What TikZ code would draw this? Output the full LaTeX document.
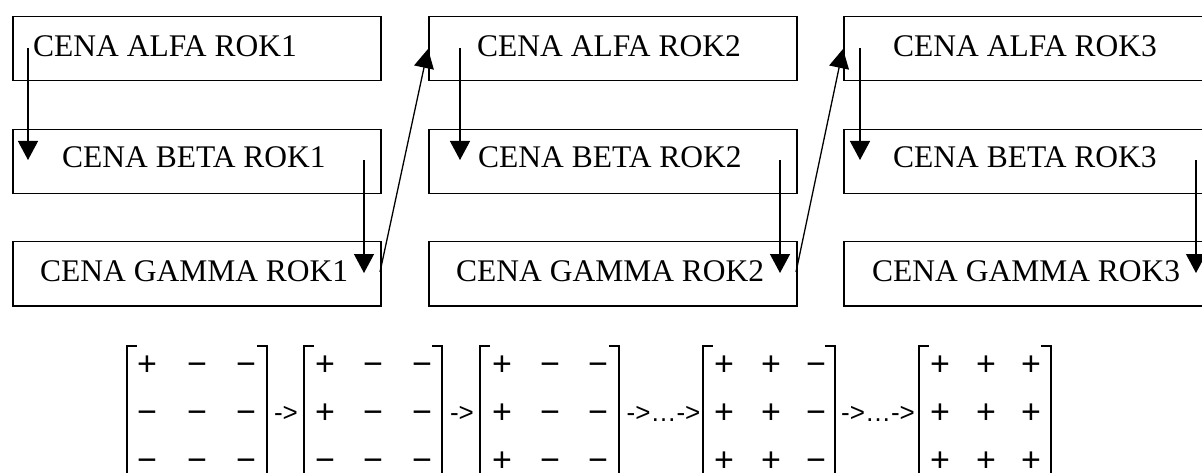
\documentclass[tikz,border=0pt]{standalone}
\usepackage{fontspec}
\setmainfont{Liberation Serif}
\newfontfamily\matfont{Liberation Sans}
\usetikzlibrary{arrows.meta}
\begin{document}
\begin{tikzpicture}[x=1pt,y=-1pt,
 box/.style={draw,line width=1.5pt,minimum width=368pt,minimum height=64pt,inner sep=0pt,anchor=north west},
 lbl/.style={anchor=base west,inner sep=0pt,font=\fontsize{31.5}{36}\selectfont},
 conn/.style={line width=1.3pt,-{Triangle[width=20pt,length=19pt]}},
 ent/.style={anchor=base,inner sep=0pt,text depth=0pt,font=\matfont\fontsize{34}{40}\selectfont},
 op/.style={anchor=base,inner sep=0pt,font=\matfont\fontsize{26}{30}\selectfont},
 brk/.style={line width=1.3pt}]
\path[use as bounding box,clip] (0,0) rectangle (1202,473);
% boxes
\foreach \c/\x in {1/12,2/428,3/843}{
  \node[box] (a\c) at (\x,16) {};
  \node[box] (b\c) at (\x,129) {};
  \node[box] (g\c) at (\x,241) {};
}
% labels
\node[lbl] (ta1) at (33,57) {CENA ALFA ROK1};
\node[lbl] (tb1) at (62,168) {CENA BETA ROK1};
\node[lbl] (tg1) at (40,281) {CENA GAMMA ROK1};
\node[lbl] (ta2) at (477,57) {CENA ALFA ROK2};
\node[lbl] (tb2) at (478,168) {CENA BETA ROK2};
\node[lbl] (tg2) at (456,281) {CENA GAMMA ROK2};
\node[lbl] (ta3) at (893,57) {CENA ALFA ROK3};
\node[lbl] (tb3) at (893,168) {CENA BETA ROK3};
\node[lbl] (tg3) at (872,281) {CENA GAMMA ROK3};
% connectors
\coordinate (ab1s) at (28,48);   \coordinate (ab1e) at (28,160);
\coordinate (ab2s) at (460,48);  \coordinate (ab2e) at (460,160);
\coordinate (ab3s) at (860,48);  \coordinate (ab3e) at (860,160);
\coordinate (bg1s) at (364,160); \coordinate (bg1e) at (364,273);
\coordinate (bg2s) at (780,160); \coordinate (bg2e) at (780,273);
\coordinate (bg3s) at (1196,160);\coordinate (bg3e) at (1196,273);
\coordinate (d1s) at (380,272);  \coordinate (d1e) at (428,49);
\coordinate (d2s) at (796,272);  \coordinate (d2e) at (843,49);
\foreach \p in {ab1,ab2,ab3,bg1,bg2,bg3}{\draw[conn] (\p s) -- (\p e);}
\draw[conn] (d1s) -- (d1e);
\draw[conn] (d2s) -- (d2e);
% matrices
\foreach \l/\r in {127/267,304/442,480/619,703/835,919/1051}{
  \draw[brk] (\l+10,346) -- (\l,346) -- (\l,490);
  \draw[brk] (\r-10,346) -- (\r,346) -- (\r,490);
}
% matrix 1
\node[ent] (m1a) at (147,375) {+};  \node[ent] (m1b) at (197,375) {−}; \node[ent] (m1c) at (246,375) {−};
\node[ent] (m1d) at (147,423.5) {−};\node[ent] (m1e) at (197,423.5) {−};\node[ent] (m1f) at (246,423.5) {−};
\node[ent] (m1g) at (147,471) {−};  \node[ent] (m1h) at (197,471) {−}; \node[ent] (m1i) at (246,471) {−};
% matrix 2
\node[ent] (m2a) at (325,375) {+};  \node[ent] (m2b) at (373,375) {−}; \node[ent] (m2c) at (422,375) {−};
\node[ent] (m2d) at (325,423.5) {+};\node[ent] (m2e) at (373,423.5) {−};\node[ent] (m2f) at (422,423.5) {−};
\node[ent] (m2g) at (325,471) {−};  \node[ent] (m2h) at (373,471) {−}; \node[ent] (m2i) at (422,471) {−};
% matrix 3
\node[ent] (m3a) at (502,375) {+};  \node[ent] (m3b) at (550,375) {−}; \node[ent] (m3c) at (598,375) {−};
\node[ent] (m3d) at (502,423.5) {+};\node[ent] (m3e) at (550,423.5) {−};\node[ent] (m3f) at (598,423.5) {−};
\node[ent] (m3g) at (502,471) {+};  \node[ent] (m3h) at (550,471) {−}; \node[ent] (m3i) at (598,471) {−};
% matrix 4
\node[ent] (m4a) at (724,375) {+};  \node[ent] (m4b) at (771,375) {+}; \node[ent] (m4c) at (816,375) {−};
\node[ent] (m4d) at (724,423.5) {+};\node[ent] (m4e) at (771,423.5) {+};\node[ent] (m4f) at (816,423.5) {−};
\node[ent] (m4g) at (724,471) {+};  \node[ent] (m4h) at (771,471) {+}; \node[ent] (m4i) at (816,471) {−};
% matrix 5
\node[ent] (m5a) at (940,375) {+};  \node[ent] (m5b) at (986,375) {+}; \node[ent] (m5c) at (1031,375) {+};
\node[ent] (m5d) at (940,423.5) {+};\node[ent] (m5e) at (986,423.5) {+};\node[ent] (m5f) at (1031,423.5) {+};
\node[ent] (m5g) at (940,471) {+};  \node[ent] (m5h) at (986,471) {+}; \node[ent] (m5i) at (1031,471) {+};
% operators
\node[op] (o1) at (286,421) {->};
\node[op] (o2) at (462,421) {->};
\node[op] (o3) at (663.5,421) {->…->};
\node[op] (o4) at (878,421) {->…->};
\end{tikzpicture}
\end{document}
